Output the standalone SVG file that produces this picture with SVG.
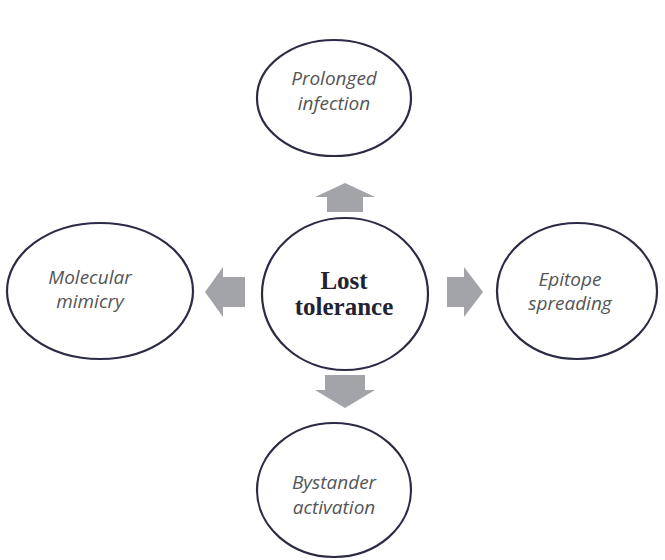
<svg xmlns="http://www.w3.org/2000/svg" width="665" height="560" viewBox="0 0 665 560">
<style>
.node{fill:#fff;stroke:#2b2b45;stroke-width:2.2}
.lbl{font-family:"Open Sans","Liberation Sans",sans-serif;font-style:italic;font-size:19px;fill:#555;text-anchor:middle}
.ctr{font-family:"Liberation Serif",serif;font-weight:bold;font-size:25px;fill:#222233;text-anchor:middle}
.arr{fill:#a3a3aa}
</style>
<rect width="665" height="560" fill="#fff"/>
<g id="connectors">
<polygon class="arr" points="345,183 375,197 363,197 363,212 327,212 327,197 315,197"/>
<polygon class="arr" points="205,292 223,267 223,277 245,277 245,307 223,307 223,317"/>
<polygon class="arr" points="483,292 464,267 464,277 447,277 447,307 464,307 464,317"/>
<polygon class="arr" points="345,408 375,390 365,390 365,375 325,375 325,390 315,390"/>
</g>
<g id="prolonged">
<ellipse class="node" cx="334" cy="98" rx="77" ry="58"/>
<text class="lbl" x="334" y="85">Prolonged</text>
<text class="lbl" x="334" y="110">infection</text>
</g>
<g id="lost">
<ellipse class="node" cx="345" cy="294" rx="83" ry="76"/>
<text class="ctr" x="344" y="289">Lost</text>
<text class="ctr" x="344" y="315">tolerance</text>
</g>
<g id="molecular">
<ellipse class="node" cx="100" cy="291" rx="93" ry="68"/>
<text class="lbl" x="90" y="284">Molecular</text>
<text class="lbl" x="90" y="308">mimicry</text>
</g>
<g id="epitope">
<ellipse class="node" cx="577" cy="291" rx="80" ry="68"/>
<text class="lbl" x="570" y="286">Epitope</text>
<text class="lbl" x="570" y="310">spreading</text>
</g>
<g id="bystander">
<ellipse class="node" cx="334" cy="490" rx="77" ry="67"/>
<text class="lbl" x="334" y="489">Bystander</text>
<text class="lbl" x="334" y="514">activation</text>
</g>
</svg>
